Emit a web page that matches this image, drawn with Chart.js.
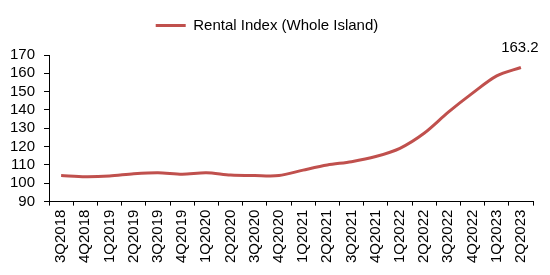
<!DOCTYPE html>
<html>
<head>
<meta charset="utf-8">
<script src="https://cdn.jsdelivr.net/npm/chart.js@4"></script>
<style>
  html, body { margin: 0; padding: 0; background: #fff; }
  #wrap { width: 550px; height: 275px; }
</style>
</head>
<body>
<div id="wrap"><canvas id="grafico"></canvas></div>
<script>
// Dados do gráfico
const trimestres = ['3Q2018', '4Q2018', '1Q2019', '2Q2019', '3Q2019', '4Q2019', '1Q2020', '2Q2020',
  '3Q2020', '4Q2020', '1Q2021', '2Q2021', '3Q2021', '4Q2021', '1Q2022', '2Q2022',
  '3Q2022', '4Q2022', '1Q2023', '2Q2023'];
const indiceAluguel = [104.3, 103.6, 104.0, 105.2, 105.8, 105.0, 105.7, 104.5,
  104.2, 104.2, 107.2, 110.0, 111.8, 114.6, 119.1, 127.3,
  138.8, 149.2, 158.6, 163.2];
const eixoY = { min: 90, max: 170, passo: 10 };

// Rótulo do último valor
const rotuloFinal = {
  id: 'rotuloFinal',
  afterDatasetsDraw(chart) {
    const meta = chart.getDatasetMeta(0);
    const ultimo = meta.data[meta.data.length - 1];
    const ctx = chart.ctx;
    ctx.save();
    ctx.font = '15px "Liberation Sans", Arial, sans-serif';
    ctx.fillStyle = '#000';
    ctx.textAlign = 'center';
    ctx.textBaseline = 'bottom';
    ctx.fillText(indiceAluguel[indiceAluguel.length - 1].toFixed(1), ultimo.x - 1, ultimo.y - 12);
    ctx.restore();
  }
};

// Espaço extra abaixo da legenda
const espacoLegenda = {
  id: 'espacoLegenda',
  beforeInit(chart) {
    const fitOriginal = chart.legend.fit;
    chart.legend.fit = function() {
      fitOriginal.call(this);
      this.height += 12;
    };
  }
};

Chart.defaults.font.family = '"Liberation Sans", Arial, sans-serif';
Chart.defaults.font.size = 15;
Chart.defaults.color = '#000';

const ctx = document.getElementById('grafico').getContext('2d');
new Chart(ctx, {
  type: 'line',
  data: {
    labels: trimestres,
    datasets: [{
      label: 'Rental Index (Whole Island)',
      data: indiceAluguel,
      borderColor: '#C0504D',
      backgroundColor: '#C0504D',
      borderWidth: 3,
      pointRadius: 0,
      tension: 0.3
    }]
  },
  options: {
    responsive: true,
    maintainAspectRatio: false,
    animation: false,
    layout: { padding: { left: 1, right: 17, top: 4, bottom: 8 } },
    scales: {
      x: {
        offset: true,
        grid: {
          offset: true,
          drawOnChartArea: false,
          drawTicks: true,
          tickLength: 4,
          color: '#000'
        },
        border: { color: '#000', width: 1 },
        ticks: {
          autoSkip: false,
          maxRotation: 90,
          minRotation: 90,
          padding: 4
        }
      },
      y: {
        min: eixoY.min,
        max: eixoY.max,
        grid: {
          drawOnChartArea: false,
          drawTicks: true,
          tickLength: 5,
          color: '#000'
        },
        border: { color: '#000', width: 1 },
        ticks: { stepSize: eixoY.passo, padding: 9, autoSkip: false }
      }
    },
    plugins: {
      legend: {
        position: 'top',
        labels: {
          usePointStyle: true,
          pointStyle: 'line',
          pointStyleWidth: 30,
          padding: 14
        }
      },
      tooltip: { enabled: false }
    }
  },
  plugins: [rotuloFinal, espacoLegenda]
});
</script>
</body>
</html>
